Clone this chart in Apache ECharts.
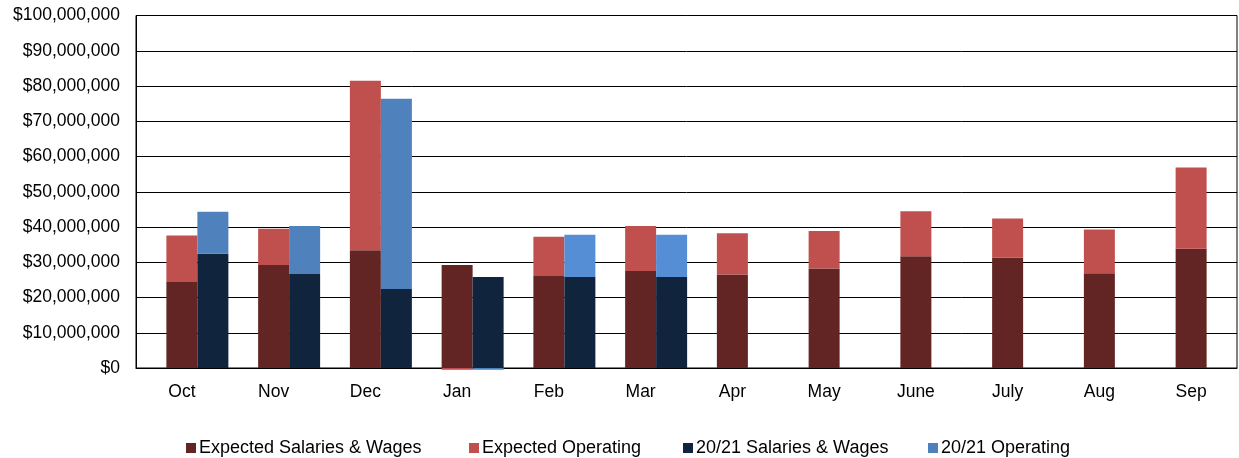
<!DOCTYPE html>
<html>
<head>
<meta charset="utf-8">
<script src="https://cdn.jsdelivr.net/npm/echarts@6/dist/echarts.min.js"></script>
<style>
html,body{margin:0;padding:0;background:#fff;}
#chart{width:1239px;height:458px;}
</style>
</head>
<body>
<div id="chart"></div>
<script>
var months = ['Oct','Nov','Dec','Jan','Feb','Mar','Apr','May','June','July','Aug','Sep'];
var expSalaries = [24400000,29200000,33400000,29200000,26100000,27500000,26500000,28200000,31700000,31300000,26900000,33800000];
var expOperating = [13200000,10300000,48100000,-500000,11100000,12800000,11700000,10700000,12800000,11100000,12400000,23100000];
var curSalaries = [32400000,26700000,22400000,25800000,25800000,25800000,null,null,null,null,null,null];
var curOperating = [11900000,13600000,54000000,-500000,12000000,12000000,null,null,null,null,null,null];
var yTicks = [0,10000000,20000000,30000000,40000000,50000000,60000000,70000000,80000000,90000000,100000000];
var seriesNames = ['Expected Salaries & Wages','Expected Operating','20/21 Salaries & Wages','20/21 Operating'];

var font = 'Liberation Sans, Arial, sans-serif';
var legendLeft = [186,469,683,928];
var chart = echarts.init(document.getElementById('chart'));
var option = {
    animation:false,
    legend:seriesNames.map(function(n,i){
        return {
            data:[n],
            left:legendLeft[i],
            top:439,
            padding:0,
            itemWidth:10,
            itemHeight:10,
            icon:'rect',
            textStyle:{fontFamily:font,fontSize:18,color:'#000',padding:[0,0,0,-2]}
        };
    }),
    grid:{
        left:136,
        right:2,
        top:15.5,
        bottom:90,
        show:true,
        borderColor:'#000',
        borderWidth:1
    },
    xAxis:{
        type:'category',
        data:months,
        axisTick:{show:false},
        axisLine:{lineStyle:{color:'#000'}},
        axisLabel:{fontFamily:font,fontSize:17.5,color:'#000',margin:15}
    },
    yAxis:{
        type:'value',
        min:yTicks[0],
        max:yTicks[yTicks.length-1],
        interval:10000000,
        axisLine:{show:true,lineStyle:{color:'#000'}},
        splitLine:{lineStyle:{color:'#000',width:1}},
        axisLabel:{
            fontFamily:font,fontSize:17.5,color:'#000',margin:16,
            formatter:function(v){return '$'+v.toLocaleString('en-US');}
        }
    },
    series:[
        {
            name:'pad',
            type:'bar',
            stack:'pad',
            barWidth:31,
            barGap:'0%',
            data:months.map(function(){return null;})
        },
        {
            name:seriesNames[0],
            type:'bar',
            stack:'exp',
            barWidth:31,
            clip:false,
            itemStyle:{color:'#632523'},
            data:expSalaries
        },
        {
            name:seriesNames[1],
            type:'bar',
            stack:'exp',
            barWidth:31,
            clip:false,
            itemStyle:{color:'#C0504D'},
            data:expOperating
        },
        {
            name:seriesNames[2],
            type:'bar',
            stack:'cur',
            barWidth:31,
            clip:false,
            itemStyle:{color:'#10243E'},
            data:curSalaries
        },
        {
            name:seriesNames[3],
            type:'bar',
            stack:'cur',
            barWidth:31,
            clip:false,
            itemStyle:{color:'#4F81BD'},
            data:curOperating.map(function(v,i){
                return i >= 4 ? {value:v,itemStyle:{color:'#558ED5'}} : v;
            })
        }
    ]
};
chart.setOption(option);
</script>
</body>
</html>
